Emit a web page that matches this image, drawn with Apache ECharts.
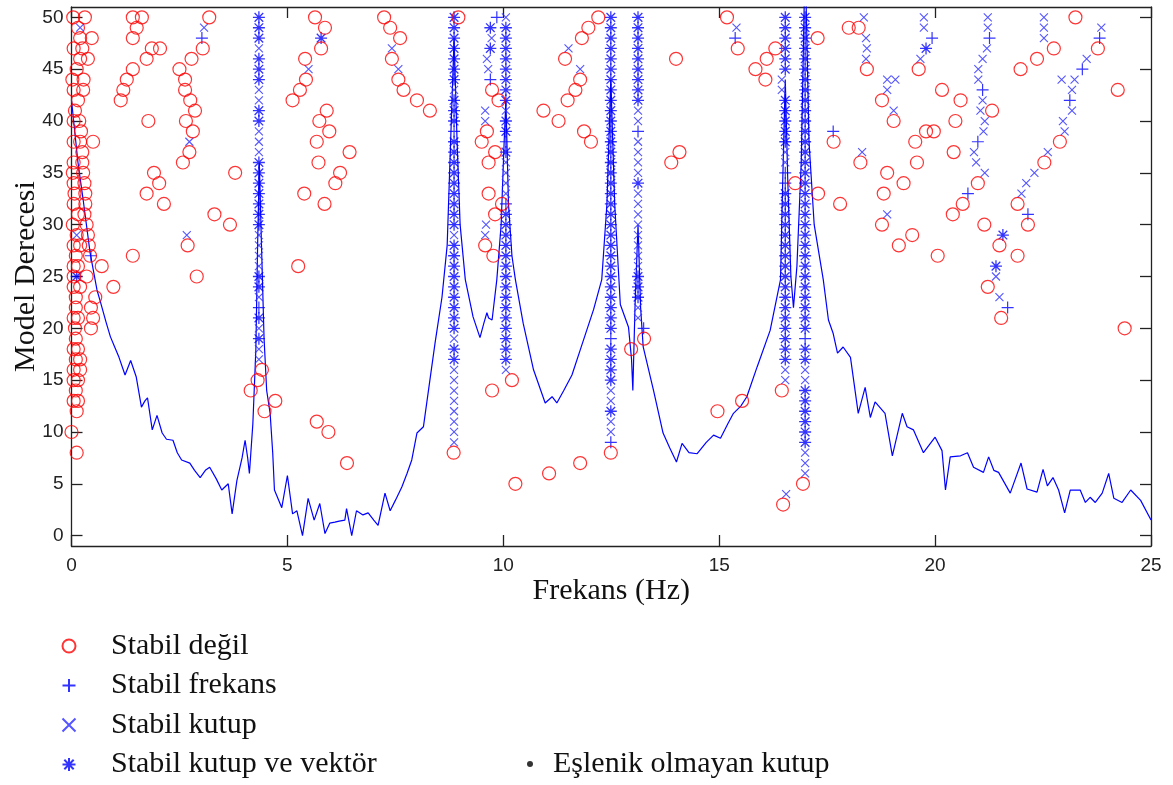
<!DOCTYPE html>
<html><head><meta charset="utf-8">
<script src="https://cdn.jsdelivr.net/npm/echarts@6/dist/echarts.min.js"></script>
<style>html,body{margin:0;padding:0;background:#fff}#c{width:1173px;height:785px}</style>
</head><body><div id="c"></div><script>
// ---- data ----
const xTicks = [0, 5, 10, 15, 20, 25];
const yTicks = [0, 5, 10, 15, 20, 25, 30, 35, 40, 45, 50];

const frfLine = [
[0.0,42],[0.03,40.8],[0.15,36],[0.27,32.4],[0.43,27.3],[0.59,23.7],[0.66,22.7],[0.8,20.6],[0.9,19.2],[1.0,18.2],[1.1,17.2],[1.24,15.5],[1.37,16.9],[1.5,15.3],[1.62,12.4],[1.7,13.0],[1.76,13.3],[1.87,10.2],[1.98,11.6],[2.1,9.9],[2.2,9.3],[2.35,9.2],[2.45,8.0],[2.55,7.3],[2.74,7.0],[2.85,6.3],[2.98,5.6],[3.1,6.3],[3.2,6.6],[3.35,5.5],[3.48,4.4],[3.63,5.0],[3.72,2.1],[3.83,5.3],[3.95,7.5],[4.02,9.2],[4.08,7.5],[4.12,6.0],[4.2,10.8],[4.27,18],[4.31,28],[4.35,36],[4.4,28],[4.46,19],[4.52,14],[4.6,11.8],[4.66,8],[4.7,4.4],[4.87,2.7],[5.0,5.8],[5.12,2.1],[5.22,2.4],[5.35,0.0],[5.48,3.6],[5.62,1.5],[5.75,3.1],[5.87,0.2],[5.98,1.2],[6.1,1.3],[6.2,1.4],[6.33,1.5],[6.37,2.6],[6.49,0.0],[6.6,2.4],[6.75,2.0],[6.87,2.2],[7.0,1.5],[7.1,1.0],[7.26,4.1],[7.38,2.4],[7.5,3.4],[7.65,4.7],[7.77,6.0],[7.88,7.3],[8.0,9.9],[8.15,10.5],[8.3,15],[8.42,18.6],[8.58,23],[8.7,28],[8.78,38],[8.86,48],[8.93,38],[9.0,30],[9.12,24.7],[9.3,21.1],[9.46,19.1],[9.55,20.5],[9.62,21.5],[9.66,21],[9.74,20.8],[9.85,24.7],[9.95,30],[10.02,38],[10.06,42],[10.12,32],[10.2,27],[10.28,24.7],[10.46,20.5],[10.7,16],[10.97,12.8],[11.13,13.4],[11.24,12.8],[11.4,14],[11.59,15.5],[11.78,17.9],[12.09,21.8],[12.28,24.7],[12.4,32],[12.49,44],[12.58,32],[12.71,22.3],[12.9,20.1],[12.97,17],[13.0,14.0],[13.05,22],[13.12,30],[13.18,22],[13.24,18.2],[13.48,14],[13.7,9.9],[13.85,8.5],[14.01,7.1],[14.14,8.9],[14.3,8.0],[14.49,7.9],[14.7,9.0],[14.87,9.7],[15.03,9.4],[15.2,10.8],[15.33,11.8],[15.5,12.5],[15.64,13.4],[15.88,16.3],[16.18,19.8],[16.42,24.7],[16.47,34],[16.53,44],[16.59,34],[16.66,25],[16.72,22],[16.8,26],[16.9,36],[16.99,56],[17.08,38],[17.2,30],[17.41,24.7],[17.53,20.8],[17.64,19.5],[17.74,17.6],[17.87,18.2],[18.04,17.2],[18.22,11.8],[18.38,14.3],[18.5,11.4],[18.61,12.9],[18.84,11.8],[19.01,7.7],[19.24,11.8],[19.35,10.5],[19.5,10.2],[19.73,8.0],[20.0,9.5],[20.16,8.2],[20.24,4.4],[20.35,7.6],[20.59,7.7],[20.75,8.0],[20.89,6.6],[21.12,6.1],[21.24,7.6],[21.36,6.3],[21.47,6.1],[21.74,4.1],[21.99,7.0],[22.13,4.5],[22.36,4.2],[22.5,6.4],[22.6,4.8],[22.73,5.6],[22.86,4.4],[23.0,2.2],[23.13,4.4],[23.36,4.4],[23.48,3.2],[23.59,3.7],[23.71,3.2],[23.87,4.1],[24.02,6.0],[24.14,3.6],[24.33,3.2],[24.53,4.4],[24.76,3.4],[25.0,1.5]
];

// red circles: [frequency, model order]
const unstablePts = [
[0.04,50],[0.31,50],[0.15,49],[0.2,48],[0.47,48],[0.05,47],[0.25,47],[0.2,46],[0.38,46],[0.12,45],[0.02,44],[0.28,44],[0.05,43],[0.27,43],[0.15,42],[0.08,41],[0.18,40],[0.05,40],[0.22,39],[0.2,38],[0.5,38],[0.05,38],[0.25,37],[0.25,36],[0.05,36],[0.03,35],[0.27,35],[0.3,34],[0.05,34],[0.07,33],[0.32,33],[0.32,32],[0.05,32],[0.15,31],[0.3,31],[0.03,30],[0.35,30],[0.12,29],[0.38,29],[0.2,28],[0.4,28],[0.05,28],[0.1,27],[0.43,27],[0.15,26],[0.7,26],[0.05,26],[0.05,25],[0.35,25],[0.2,24],[0.97,24],[0.05,24],[0.1,23],[0.55,23],[0.1,22],[0.45,22],[0.15,21],[0.5,21],[0.05,21],[0.08,20],[0.45,20],[0.1,19],[0.15,18],[0.05,18],[0.1,17],[0.2,17],[0.2,16],[0.05,16],[0.15,15],[0.05,15],[0.1,14],[0.05,13],[0.15,13],[0.12,12],[0.0,10],[0.12,8],
[1.42,50],[1.63,50],[1.51,49],[1.42,48],[1.86,47],[2.05,47],[1.74,46],[1.42,45],[1.28,44],[1.2,43],[1.14,42],[1.78,40],[1.91,35],[2.03,34],[1.74,33],[2.14,32],[1.42,27],
[3.19,50],[3.04,47],[2.78,46],[2.5,45],[2.63,44],[2.63,43],[2.75,42],[2.86,41],[2.65,40],[2.81,39],[2.73,37],[2.58,36],[2.69,28],[2.9,25],[3.79,35],[3.31,31],[3.67,30],
[4.15,14],[4.31,15],[4.41,16],[4.47,12],[4.72,13],
[5.64,50],[5.87,49],[5.78,47],[5.41,46],[5.43,44],[5.29,43],[5.12,42],[5.91,41],[5.74,40],[5.97,39],[5.68,38],[6.44,37],[5.72,36],[6.22,35],[6.11,34],[5.39,33],[5.86,32],[5.25,26],[5.68,11],[5.95,10],[6.38,7],
[7.24,50],[7.38,49],[7.61,48],[7.42,46],[7.57,44],[7.69,43],[8.0,42],[8.3,41],
[8.96,50],[8.85,8],
[9.74,43],[9.89,42],[9.62,39],[9.5,38],[9.81,37],[9.66,36],[9.66,33],[9.97,32],[9.81,31],[9.58,28],[9.77,27],[9.74,14],[10.2,15],[10.28,5],
[10.93,41],[11.28,40],[11.87,39],[12.03,38],[11.43,46],[11.78,44],[11.67,43],[11.49,42],[11.82,48],[11.97,49],[12.2,50],[11.06,6],[11.78,7],[12.49,8],
[12.96,18],[13.26,19],[14.0,46],[14.08,37],[13.89,36],[14.96,12],[15.53,13],
[15.18,50],[15.43,47],[15.84,45],[16.07,44],[16.1,46],[16.3,47],
[16.45,14],[16.48,3],[16.94,5],[16.76,34],
[17.28,48],[18.0,49],[18.23,49],[18.42,45],[17.65,38],[18.27,36],[17.29,33],[17.8,32],
[18.77,42],[19.04,40],[18.89,35],[19.27,34],[18.81,33],[18.77,30],[19.47,29],[19.16,28],[20.06,27],
[19.62,45],[20.16,43],[20.59,42],[20.47,40],[19.54,38],[19.79,39],[19.97,39],[20.43,37],[19.58,36],
[21.98,45],[22.36,46],[21.32,41],[20.99,34],[20.64,32],[20.41,31],[21.14,30],[21.49,28],[21.91,27],[21.22,24],[21.53,21],
[22.75,47],[23.25,50],[23.77,47],[24.23,43],[22.89,38],[22.53,36],[21.91,32],[22.15,30],[24.39,20]
];

// scattered stable markers outside the vertical columns
const stableFreqPts = [
[3.02,48],[0.45,27],[9.85,50],[9.7,44],[15.37,48],[19.93,48],[21.26,48],[21.1,43],[20.99,38],[20.76,33],[22.15,31],[21.68,22],[23.81,48],[23.41,45],[23.12,42],[17.64,39],[13.25,20]
];
const stablePolePts = [
[0.2,49],[0.12,29],[3.07,49],[2.73,38],[2.67,29],[5.49,45],[7.42,47],[7.57,45],
[9.73,48],[9.62,46],[9.65,45],[9.58,41],[9.58,40],[9.6,30],[9.58,29],
[11.51,47],[11.78,45],[15.4,49],
[16.45,44],[16.45,43],[16.55,4],
[18.35,50],[18.4,48],[18.42,47],[18.4,46],[18.31,37],[18.89,43],[18.89,44],[19.08,44],[19.04,41],[18.89,31],
[19.74,50],[19.74,49],[19.66,46],
[21.22,50],[21.22,49],[21.2,47],[21.1,46],[21.0,45],[21.0,44],[21.1,42],[21.05,41],[21.15,40],[21.12,39],[20.9,37],[20.95,36],[21.15,35],[21.41,25],[21.49,23],
[22.52,50],[22.52,49],[22.52,48],[23.85,49],[23.51,46],[22.93,44],[23.23,44],[23.17,43],[23.17,41],[22.96,40],[23.0,39],[22.61,37],[22.3,35],[22.11,34],[22.0,33]
];
const stableVecPts = [
[0.12,25],[5.78,48],[9.7,49],[9.7,47],[19.79,47],[21.57,29],[21.41,26]
];
const nonConjPts = [];

// vertical stabilisation columns: frequency and the model orders of each marker type
const colFreq = [4.34, 8.86, 10.06, 12.49, 13.12, 16.53, 16.99];
const colStarOrders = [
  [50,49,48,46,45,44,41,40,36,35,34,33,32,31,30,25,24,21,19],
  [50,49,48,47,46,45,44,42,41,40,38,37,36,35,34,33,32,31,30,28,27,26,25,24,23,22,21,20,18,17],
  [49,48,47,46,45,44,43,42,40,39,37,31,30,29,28,27,26,25,24,23,22,21,20,19,18,17],
  [50,49,48,47,46,45,44,43,42,41,40,39,38,37,36,35,34,33,32,31,30,29,28,27,26,25,24,23,22,21,20,18,17,16,15,12],
  [50,49,48,47,46,45,44,43,42,34,25,24,23],
  [50,49,48,47,46,45,42,41,40,39,38,33,32,31,30,29,28,27,26,25,24,23,22,21,20,19,18,17],
  [50,49,48,47,46,45,44,43,42,41,40,39,38,37,36,35,34,33,32,31,30,29,28,27,26,25,24,23,22,21,20,18,17,14,13,12,11,10,9]
];
const colXOrders = [
  [47,43,42,39,38,37,29,28,27,26,23,20,18,17],
  [43,29,19,16,15,14,13,12,11,10,9],
  [50,41,36,35,34,33,16],
  [14,13,11,10],
  [41,40,38,37,36,35,33,32,31,30,29,28,27,26,22,21],
  [37,36,16,15],
  [16,15,8,7,6]
];
const colPlusOrders = [
  [22],
  [39],
  [38,32],
  [19,9],
  [39],
  [35,34],
  [19]
];

// ---- build series data from the tables ----
function colPoints(ordersList) {
  const out = [];
  ordersList.forEach((orders, i) => orders.forEach(n => out.push([colFreq[i], n])));
  return out;
}
const starData = stableVecPts.concat(colPoints(colStarOrders));
const xData = stablePolePts.concat(colPoints(colXOrders));
const plusData = stableFreqPts.concat(colPoints(colPlusOrders));

const BLUE = '#0000ff';
const PLUS = 'path://M0,-1L0,1M-1,0L1,0';
const CROSS = 'path://M-1,-1L1,1M-1,1L1,-1';
const STAR = 'path://M0,-1L0,1M-1,0L1,0M-0.72,-0.72L0.72,0.72M-0.72,0.72L0.72,-0.72';
const AX = '#222';

const chart = echarts.init(document.getElementById('c'), null, {renderer: 'canvas'});
const axisCommon = {
  axisLine: {show: true, onZero: false, lineStyle: {color: AX, width: 1.3}},
  axisTick: {show: true, inside: true, length: 11, lineStyle: {color: AX, width: 1.3}},
  splitLine: {show: false}
};
chart.setOption({
  animation: false,
  backgroundColor: '#fff',
  grid: {left: 71.5, right: 22, top: 7, bottom: 239, containLabel: false, outerBoundsMode: 'none'},
  xAxis: [
    Object.assign({}, axisCommon, {
      type: 'value', min: 0, max: 25, interval: 5, position: 'bottom',
      axisLabel: {margin: 10, fontSize: 19, color: AX, fontFamily: 'Liberation Sans'},
      name: 'Frekans (Hz)', nameLocation: 'middle', nameGap: 30, nameMoveOverlap: false,
      nameTextStyle: {fontFamily: 'Liberation Serif', fontSize: 30, color: '#111'}
    }),
    Object.assign({}, axisCommon, {
      type: 'value', min: 0, max: 25, interval: 5, position: 'top',
      axisLabel: {show: false}
    })
  ],
  yAxis: [
    Object.assign({}, axisCommon, {
      type: 'value', min: -1, max: 51, position: 'left',
      axisTick: {show: true, inside: true, length: 11, customValues: yTicks, lineStyle: {color: AX, width: 1.3}},
      axisLabel: {customValues: yTicks, margin: 8, fontSize: 19, color: AX, fontFamily: 'Liberation Sans'},
      name: 'Model Derecesi', nameLocation: 'middle', nameGap: 30, nameMoveOverlap: false,
      nameTextStyle: {fontFamily: 'Liberation Serif', fontSize: 30, color: '#111'}
    }),
    Object.assign({}, axisCommon, {
      type: 'value', min: -1, max: 51, position: 'right',
      axisTick: {show: true, inside: true, length: 11, customValues: yTicks, lineStyle: {color: AX, width: 1.3}},
      axisLabel: {show: false}
    })
  ],
  legend: [
    {
      data: ['Stabil değil', 'Stabil frekans', 'Stabil kutup', 'Stabil kutup ve vektör'],
      orient: 'vertical', left: 61.5, top: 631, padding: 0,
      itemWidth: 74, itemHeight: 13, itemGap: 9.5, selectedMode: false,
      textStyle: {fontFamily: 'Liberation Serif', fontSize: 30, lineHeight: 30, color: '#111'}
    },
    {
      data: ['Eşlenik olmayan kutup'],
      orient: 'vertical', left: 527, top: 749, padding: 0,
      itemWidth: 36, itemHeight: 6, selectedMode: false,
      textStyle: {fontFamily: 'Liberation Serif', fontSize: 30, lineHeight: 30, color: '#111'}
    }
  ],
  series: [
    {
      name: 'FRF', type: 'line', data: frfLine, symbol: 'none', showSymbol: false,
      lineStyle: {color: BLUE, width: 1.2}, itemStyle: {color: BLUE}, z: 1, silent: true, clip: true
    },
    {
      name: 'Stabil değil', type: 'scatter', data: unstablePts, symbol: 'circle', symbolSize: 13,
      itemStyle: {color: 'transparent', borderColor: '#ff0000', borderWidth: 1.2}, z: 3, silent: true
    },
    {
      name: 'Stabil frekans', type: 'scatter', data: plusData, symbol: PLUS, symbolSize: 12,
      itemStyle: {color: 'transparent', borderColor: BLUE, borderWidth: 1.2}, z: 2, silent: true
    },
    {
      name: 'Stabil kutup', type: 'scatter', data: xData, symbol: CROSS, symbolSize: 8,
      itemStyle: {color: 'transparent', borderColor: '#2a2aff', borderWidth: 1.1}, z: 2, silent: true
    },
    {
      name: 'Stabil kutup ve vektör', type: 'scatter', data: starData, symbol: STAR, symbolSize: 12,
      itemStyle: {color: 'transparent', borderColor: BLUE, borderWidth: 1.3}, z: 2, silent: true
    },
    {
      name: 'Eşlenik olmayan kutup', type: 'scatter', data: nonConjPts, symbol: 'circle', symbolSize: 5,
      itemStyle: {color: '#000'}, z: 2, silent: true
    }
  ]
});
</script></body></html>
